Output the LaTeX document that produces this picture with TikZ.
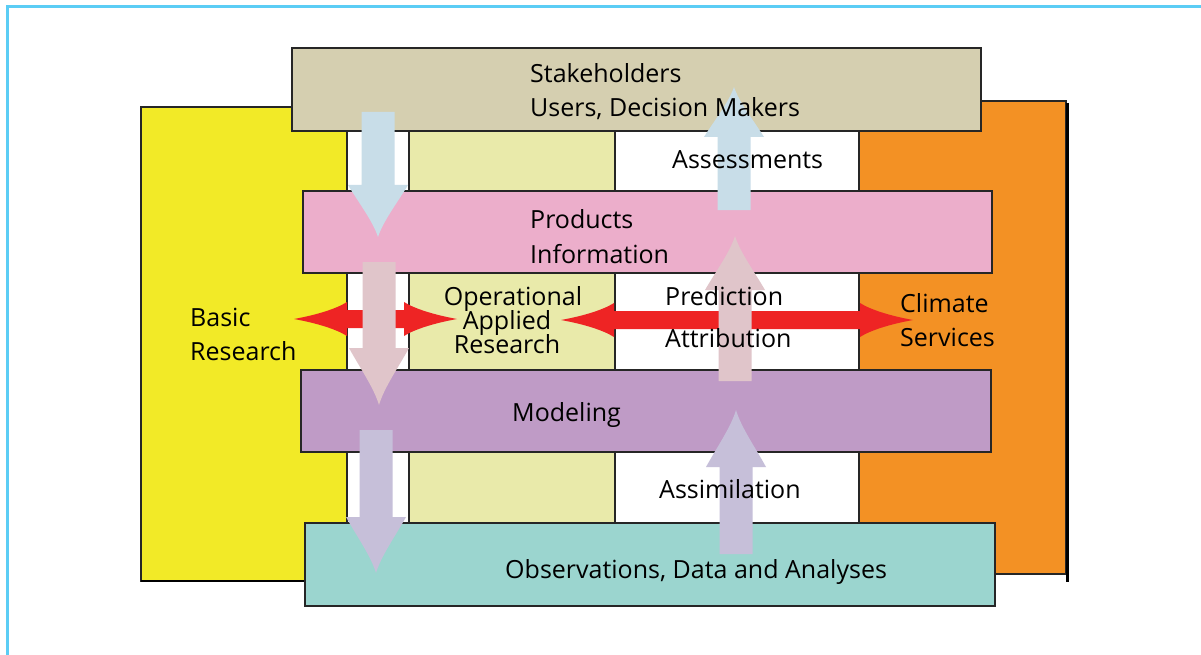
\documentclass[tikz,border=0pt]{standalone}
\usepackage{fontspec}
\setmainfont{Open Sans}
\definecolor{framec}{HTML}{5BCDF5}
\definecolor{basicc}{HTML}{F2EA27}
\definecolor{servc}{HTML}{F39124}
\definecolor{palec}{HTML}{E9EAAA}
\definecolor{stakec}{HTML}{D5CFB0}
\definecolor{prodc}{HTML}{ECAECB}
\definecolor{modelc}{HTML}{BF9BC6}
\definecolor{obsc}{HTML}{9BD5CF}
\definecolor{redc}{HTML}{EE2424}
\definecolor{bluec}{HTML}{C8DDE8}
\definecolor{pinkc}{HTML}{E0C5CA}
\definecolor{lavc}{HTML}{C6BFD9}
% fat vertical arrow: colour, x, tail, head base, tip
\newcommand{\fatarrow}[5]{%
  \fill[#1] ({#2-16.5},#3) -- ({#2-16.5},#4) -- ({#2-30},#4)
    .. controls ({#2-19},{#4+0.35*(#5-#4)}) and ({#2-5},{#4+0.7*(#5-#4)}) .. ({#2},#5)
    .. controls ({#2+5},{#4+0.7*(#5-#4)}) and ({#2+19},{#4+0.35*(#5-#4)}) .. ({#2+30},#4)
    -- ({#2+16.5},#4) -- ({#2+16.5},#3) -- cycle;}
% red double arrow: left tip, right tip, y
\newcommand{\redarrow}[3]{%
  \fill[redc] (#1,#3) .. controls ({#1+22},{#3-4}) and ({#1+42},{#3-10}) .. ({#1+53},{#3-17})
    -- ({#1+53},{#3-9}) -- ({#2-53},{#3-9}) -- ({#2-53},{#3-17})
    .. controls ({#2-42},{#3-10}) and ({#2-22},{#3-4}) .. (#2,#3)
    .. controls ({#2-22},{#3+4}) and ({#2-42},{#3+10}) .. ({#2-53},{#3+17})
    -- ({#2-53},{#3+9}) -- ({#1+53},{#3+9}) -- ({#1+53},{#3+17})
    .. controls ({#1+42},{#3+10}) and ({#1+22},{#3+4}) .. (#1,#3) -- cycle;}
\begin{document}
\begin{tikzpicture}[x=1pt,y=-1pt,line join=miter,
    box/.style={draw=black!85,line width=1.4pt},
    band/.style={box,inner sep=0pt,outer sep=0pt},
    lbl/.style={inner sep=0pt,anchor=base west,font=\fontsize{25}{30}\selectfont}]
  \useasboundingbox (0,0) rectangle (1201,655);
  \fill[white] (0,0) rectangle (1201,655);
  \draw[framec,line width=3pt] (7,670) -- (7,7) -- (1215,7);
  % side blocks
  \draw[box,fill=basicc] (141,107) rectangle (347,581);
  \draw[line width=2.5pt] (141,581) -- (347,581);
  \draw[box,fill=servc] (859,101) rectangle (1066,574);
  \draw[line width=3pt] (1067.5,103) -- (1067.5,582);
  % middle columns
  \draw[box,fill=white] (347,120) rectangle (409,530);
  \draw[box,fill=palec] (409,120) rectangle (615,530);
  \draw[box,fill=white] (615,120) rectangle (859,530);
  % bands
  \node[band,fill=stakec,minimum width=689,minimum height=83] (stake) at (636.5,89.5) {};
  \node[band,fill=prodc,minimum width=689,minimum height=82] (prod) at (647.5,232) {};
  \node[band,fill=modelc,minimum width=690,minimum height=82] (model) at (646,411) {};
  \node[band,fill=obsc,minimum width=690,minimum height=83] (obs) at (650,564.5) {};
  % arrows
  \redarrow{294}{457}{319}
  \redarrow{561}{913}{320}
  \fatarrow{bluec}{378}{112}{185}{237}
  \fatarrow{pinkc}{379}{262}{348}{405}
  \fatarrow{lavc}{376}{430}{517}{573}
  \fatarrow{lavc}{736}{554}{467}{410}
  \fatarrow{pinkc}{735}{381}{290}{236}
  \fatarrow{bluec}{734}{210}{137}{87}
  % labels
  \node[lbl] (stakeA) at (530,83) {Stakeholders};
  \node[lbl] (stakeB) at (530,117) {Users, Decision Makers};
  \node[lbl] (assess) at (672,168) {Assessments};
  \node[lbl] (prodA) at (530,228) {Products};
  \node[lbl] (prodB) at (530,263) {Information};
  \node[lbl] (basicA) at (190,326) {Basic};
  \node[lbl] (basicB) at (190,360) {Research};
  \node[lbl,anchor=base] (operA) at (513,305) {Operational};
  \node[lbl,anchor=base] (operB) at (507,329) {Applied};
  \node[lbl,anchor=base] (operC) at (507,353) {Research};
  \node[lbl] (pred) at (665,305) {Prediction};
  \node[lbl] (attr) at (665,347) {Attribution};
  \node[lbl] (servA) at (900,312) {Climate};
  \node[lbl] (servB) at (900,346) {Services};
  \node[lbl] (modelT) at (512,421) {Modeling};
  \node[lbl] (assim) at (659,498) {Assimilation};
  \node[lbl] (obsT) at (505,578) {Observations, Data and Analyses};
\end{tikzpicture}
\end{document}
